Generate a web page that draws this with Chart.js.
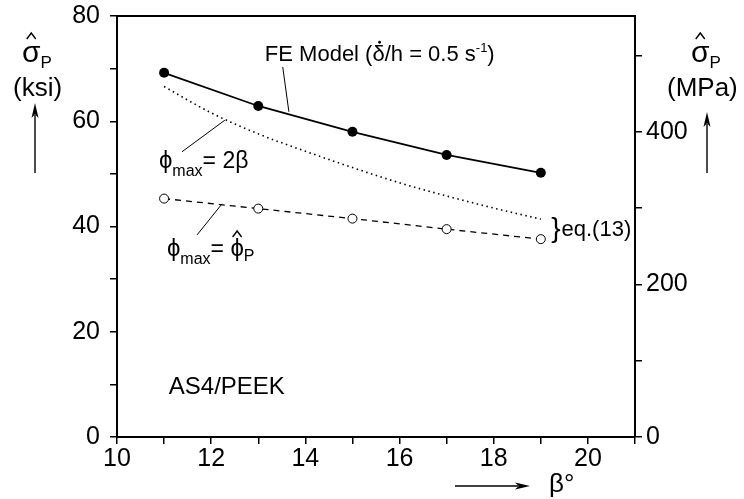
<!DOCTYPE html>
<html>
<head>
<meta charset="utf-8">
<script src="https://cdn.jsdelivr.net/npm/chart.js@4/dist/chart.umd.min.js"></script>
<style>
    html, body { margin: 0; padding: 0; background: #fff; }
    canvas { display: block; }
</style>
</head>
<body>
<canvas id="chart" width="744" height="499"></canvas>
<script>
// beta (deg) where the FE model was run
var betaFE = [11, 13, 15, 17, 19];
// peak stress (ksi), FE model
var sigmaFE = [69.2, 62.9, 58.0, 53.6, 50.2];
// peak stress (ksi), eq.(13) with phi_max = phi_P
var sigmaPhiP = [45.3, 43.4, 41.5, 39.5, 37.6];
// eq.(13) with phi_max = 2 beta
var betaEq = [11, 12, 13, 14, 15, 16, 17, 18, 19];
var sigma2Beta = [66.6, 61.6, 57.6, 54.3, 51.2, 48.3, 45.8, 43.5, 41.4];

var ksiToMPa = 6.895;
var xTicks = [10, 12, 14, 16, 18, 20];
var ksiTicks = [0, 20, 40, 60, 80];
var mpaTicks = [0, 200, 400];

var FONT = '"Liberation Sans", Arial, Helvetica, sans-serif';

function pts(xs, ys) {
    return xs.map(function(x, i) { return {x: x, y: ys[i]}; });
}

function font(size) {
    return size + 'px ' + FONT;
}

/**
 * Draw a run of text pieces (subscripts, hats, dots) left to right.
 */
function drawRuns(ctx, x, y, runs) {
    runs.forEach(function(r) {
        ctx.font = font(r.size);
        var w = ctx.measureText(r.t).width;
        var yy = y + (r.dy || 0);
        ctx.fillText(r.t, x, yy);
        if (r.hat) {
            var cx = x + w / 2 + (r.hatDx || 0), top = yy - r.hat;
            ctx.beginPath();
            ctx.moveTo(cx - 4.5, top + 6);
            ctx.lineTo(cx, top);
            ctx.lineTo(cx + 4.5, top + 6);
            ctx.lineWidth = 1.4;
            ctx.stroke();
        }
        if (r.dot) {
            ctx.beginPath();
            ctx.arc(x + w / 2 + 1, yy - r.dot, 1.4, 0, Math.PI * 2);
            ctx.fill();
        }
        x += w + (r.gap || 0);
    });
    return x;
}

function arrow(ctx, x1, y1, x2, y2) {
    var a = Math.atan2(y2 - y1, x2 - x1), len = 15, half = 3.5;
    ctx.beginPath();
    ctx.moveTo(x1, y1);
    ctx.lineTo(x2 - Math.cos(a) * len * 0.8, y2 - Math.sin(a) * len * 0.8);
    ctx.lineWidth = 1.4;
    ctx.stroke();
    ctx.beginPath();
    ctx.moveTo(x2, y2);
    ctx.lineTo(x2 - Math.cos(a) * len - Math.sin(a) * half, y2 - Math.sin(a) * len + Math.cos(a) * half);
    ctx.lineTo(x2 - Math.cos(a) * len * 0.75, y2 - Math.sin(a) * len * 0.75);
    ctx.lineTo(x2 - Math.cos(a) * len + Math.sin(a) * half, y2 - Math.sin(a) * len - Math.cos(a) * half);
    ctx.closePath();
    ctx.fill();
}

// labels, leader lines, axis titles and the top frame line
var annotations = {
    id: 'annotations',
    afterDraw: function(chart) {
        var ctx = chart.ctx, sx = chart.scales.x, sy = chart.scales.y, area = chart.chartArea;
        var px = function(v) { return sx.getPixelForValue(v); };
        var py = function(v) { return sy.getPixelForValue(v); };

        ctx.save();
        ctx.fillStyle = '#000';
        ctx.strokeStyle = '#000';
        ctx.textBaseline = 'alphabetic';
        ctx.textAlign = 'left';

        // frame top
        ctx.beginPath();
        ctx.moveTo(area.left - 1, area.top);
        ctx.lineTo(area.right + 1, area.top);
        ctx.lineWidth = 2;
        ctx.stroke();

        // leader lines
        [[13.52, 70.3, 13.65, 61.8], [11.38, 54.2, 12.29, 60.2], [11.70, 38.4, 12.23, 44.3]].forEach(function(l) {
            ctx.beginPath();
            ctx.moveTo(px(l[0]), py(l[1]));
            ctx.lineTo(px(l[2]), py(l[3]));
            ctx.lineWidth = 1;
            ctx.stroke();
        });

        drawRuns(ctx, px(13.14), py(71.4), [
            {t: 'FE Model (', size: 22},
            {t: 'δ', size: 22, dot: 19},
            {t: '/h = 0.5 s', size: 22},
            {t: '-1', size: 13, dy: -9},
            {t: ')', size: 22}
        ]);

        drawRuns(ctx, px(10.89), py(51.1), [
            {t: 'ϕ', size: 24},
            {t: 'max', size: 16, dy: 8},
            {t: '= 2β', size: 23}
        ]);

        drawRuns(ctx, px(11.06), py(34.4), [
            {t: 'ϕ', size: 24},
            {t: 'max', size: 16, dy: 8},
            {t: '= ', size: 23},
            {t: 'ϕ', size: 24, hat: 25},
            {t: 'P', size: 16, dy: 5}
        ]);

        drawRuns(ctx, px(19.22), py(38.0), [
            {t: '}', size: 28, gap: 1},
            {t: 'eq.(13)', size: 22, dy: -1}
        ]);

        ctx.font = font(24);
        ctx.fillText('AS4/PEEK', px(11.10), py(8.2));

        // left title: sigma_P (ksi)
        drawRuns(ctx, area.left - 95, area.top + 46, [
            {t: 'σ', size: 30, hat: 29, hatDx: 0},
            {t: 'P', size: 17, dy: 6}
        ]);
        ctx.font = font(26);
        ctx.fillText('(ksi)', area.left - 104, area.top + 80);
        arrow(ctx, area.left - 82, area.top + 157, area.left - 82, area.top + 87);

        // right title: sigma_P (MPa)
        drawRuns(ctx, area.right + 56, area.top + 46, [
            {t: 'σ', size: 30, hat: 29},
            {t: 'P', size: 17, dy: 6}
        ]);
        ctx.font = font(26);
        ctx.fillText('(MPa)', area.right + 32, area.top + 80);
        arrow(ctx, area.right + 72, area.top + 157, area.right + 72, area.top + 96);

        // x title: beta (deg)
        arrow(ctx, area.right - 180, area.bottom + 49, area.right - 105, area.bottom + 49);
        ctx.font = font(26);
        ctx.fillText('β°', area.right - 86, area.bottom + 55);

        ctx.restore();
    }
};

var axisGrid = {
    drawOnChartArea: false,
    drawTicks: true,
    tickLength: 7,
    color: '#000',
    lineWidth: 1.5
};
var axisBorder = {color: '#000', width: 2};

// keep the axes from reserving room for half-height edge labels
function noEdgePadding(scale) {
    scale.paddingTop = 0;
    scale.paddingBottom = 0;
    scale.paddingLeft = 0;
    scale.paddingRight = 0;
}

new Chart(document.getElementById('chart').getContext('2d'), {
    type: 'scatter',
    data: {
        datasets: [{
            label: 'FE Model',
            data: pts(betaFE, sigmaFE),
            showLine: true,
            borderColor: '#000',
            backgroundColor: '#000',
            borderWidth: 1.8,
            pointRadius: 5,
            pointBorderWidth: 0,
            pointBackgroundColor: '#000'
        }, {
            label: 'phi_max = 2 beta',
            data: pts(betaEq, sigma2Beta),
            showLine: true,
            borderColor: '#000',
            borderWidth: 1.6,
            borderDash: [1.5, 3.5],
            cubicInterpolationMode: 'monotone',
            pointRadius: 0
        }, {
            label: 'phi_max = phi_P',
            data: pts(betaFE, sigmaPhiP),
            showLine: true,
            borderColor: '#000',
            borderWidth: 1.3,
            borderDash: [6, 5],
            pointRadius: 4.5,
            pointBorderWidth: 1,
            pointBorderColor: '#000',
            pointBackgroundColor: '#fff'
        }]
    },
    options: {
        responsive: false,
        animation: false,
        events: [],
        layout: {padding: {top: 16, left: 0, right: 0, bottom: 0}},
        plugins: {
            legend: {display: false},
            tooltip: {enabled: false}
        },
        scales: {
            x: {
                type: 'linear',
                position: 'bottom',
                min: 10,
                max: 21,
                grid: axisGrid,
                border: axisBorder,
                afterFit: function(scale) { scale.height = 62; noEdgePadding(scale); },
                ticks: {
                    stepSize: 1,
                    autoSkip: false,
                    maxRotation: 0,
                    padding: 0,
                    color: '#000',
                    font: {family: FONT, size: 25},
                    callback: function(v) { return xTicks.indexOf(v) >= 0 ? String(v) : ''; }
                }
            },
            y: {
                type: 'linear',
                position: 'left',
                min: 0,
                max: 80,
                grid: axisGrid,
                border: axisBorder,
                afterFit: function(scale) { scale.width = 117; noEdgePadding(scale); },
                ticks: {
                    stepSize: 10,
                    padding: 10,
                    color: '#000',
                    font: {family: FONT, size: 25},
                    callback: function(v) { return ksiTicks.indexOf(v) >= 0 ? String(v) : ''; }
                }
            },
            y2: {
                type: 'linear',
                position: 'right',
                min: 0,
                max: 80 * ksiToMPa,
                grid: axisGrid,
                border: axisBorder,
                afterFit: function(scale) { scale.width = 109; noEdgePadding(scale); },
                ticks: {
                    stepSize: 100,
                    includeBounds: false,
                    padding: 4,
                    color: '#000',
                    font: {family: FONT, size: 25},
                    callback: function(v) { return mpaTicks.indexOf(v) >= 0 ? String(v) : ''; }
                }
            }
        }
    },
    plugins: [annotations]
});
</script>
</body>
</html>
